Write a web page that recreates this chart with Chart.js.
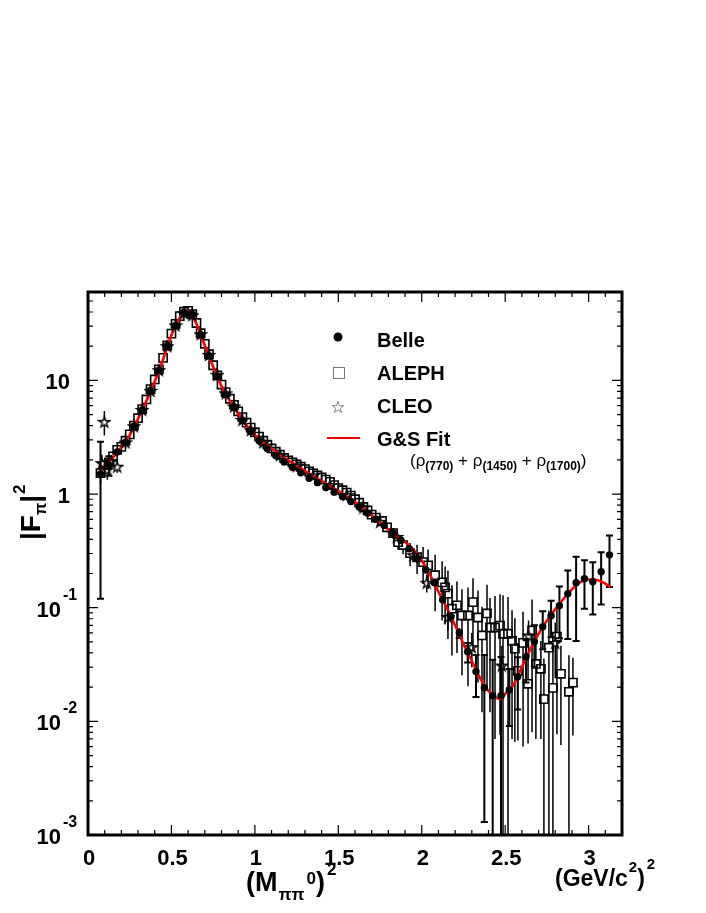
<!DOCTYPE html>
<html>
<head>
<meta charset="utf-8">
<script src="https://cdn.jsdelivr.net/npm/chart.js@4/dist/chart.umd.min.js"></script>
<style>
html,body{margin:0;padding:0;background:#fff;}
#wrap{width:706px;height:913px;position:relative;}
</style>
</head>
<body>
<div id="wrap"><canvas id="c" width="706" height="913"></canvas></div>
<script>
// ---------------- data ----------------
const belleX = [0.075,0.125,0.175,0.225,0.275,0.325,0.375,0.425,0.475,0.525,0.575,0.625,0.675,0.725,0.775,0.825,0.875,0.925,0.975,1.025,1.075,1.125,1.175,1.225,1.275,1.325,1.375,1.425,1.475,1.525,1.575,1.625,1.675,1.725,1.775,1.825,1.875,1.925,1.975,2.025,2.075,2.125,2.175,2.225,2.275,2.325,2.375,2.425,2.475,2.525,2.575,2.625,2.675,2.725,2.775,2.825,2.875,2.925,2.975,3.025,3.075,3.125];
const belleY = [1.5,1.8,2.35,2.85,3.95,5.5,8.2,12.3,20.2,30.5,39.8,38.2,25.2,16.4,10.8,7.5,5.85,4.45,3.55,2.95,2.5,2.18,1.92,1.72,1.54,1.38,1.26,1.14,1.04,0.95,0.86,0.77,0.68,0.6,0.53,0.46,0.39,0.33,0.27,0.215,0.166,0.1175,0.0834,0.0602,0.041,0.0274,0.0198,0.0168,0.0168,0.019,0.0247,0.037,0.0502,0.068,0.0851,0.104,0.133,0.166,0.18,0.169,0.207,0.292];
const belleErr = [1.38,0.35,0.15,0.1,0.1,0.12,0.16,0.22,0.35,0.5,0.6,0.6,0.4,0.28,0.2,0.14,0.11,0.09,0.07,0.06,0.05,0.045,0.04,0.035,0.032,0.03,0.028,0.026,0.024,0.022,0.02,0.019,0.018,0.016,0.015,0.014,0.012,0.011,0.01,0.009,0.008,0.007,0.006,0.006,0.008,0.011,0.0185,0.018,0.02,0.0099,0.012,0.015,0.02,0.025,0.03,0.05,0.08,0.115,0.082,0.082,0.1,0.14];

const alephX = [0.075,0.1,0.125,0.15,0.175,0.2,0.225,0.25,0.275,0.3,0.325,0.35,0.375,0.4,0.425,0.45,0.475,0.5,0.525,0.55,0.575,0.6,0.625,0.65,0.675,0.7,0.725,0.75,0.775,0.8,0.825,0.85,0.875,0.9,0.925,0.95,0.975,1.0,1.025,1.05,1.075,1.1,1.125,1.15,1.175,1.2,1.225,1.25,1.275,1.3,1.325,1.35,1.375,1.4,1.425,1.45,1.475,1.5,1.525,1.55,1.575,1.6,1.625,1.65,1.675,1.7,1.725,
  1.762,1.792,1.828,1.858,1.888,1.93,1.972,2.008,2.038,2.08,2.122,2.14,2.157,2.181,2.211,2.241,2.277,2.307,2.337,2.361,2.391,2.409,2.439,2.469,2.487,2.517,2.541,2.558,2.576,2.607,2.637,2.661,2.684,2.714,2.732,2.762,2.786,2.81,2.834,2.882,2.906];
const alephY = [1.53,1.8,1.9,2.15,2.45,2.6,2.95,3.35,4.0,4.65,5.6,6.8,8.4,10.2,12.5,15.8,20.3,25.8,31.5,36.8,40.2,41,38.3,32,26,21,17,13.6,11.1,9.2,7.9,6.9,6.1,5.35,4.75,4.25,3.85,3.5,3.2,2.95,2.72,2.52,2.36,2.22,2.08,1.98,1.9,1.82,1.74,1.66,1.58,1.52,1.46,1.4,1.34,1.28,1.2,1.13,1.08,1.03,0.97,0.9,0.84,0.77,0.72,0.66,0.62,
  0.58,0.51,0.454,0.378,0.356,0.302,0.278,0.252,0.236,0.193,0.167,0.151,0.133,0.098,0.105,0.0854,0.0854,0.112,0.082,0.057,0.089,0.067,0.067,0.0696,0.059,0.059,0.051,0.0436,0.0278,0.049,0.0214,0.063,0.032,0.029,0.0157,0.0445,0.0197,0.0557,0.0262,0.0182,0.0219];
const alephErr = [0.3,0.25,0.15,0.12,0.1,0.08,0.08,0.08,0.09,0.1,0.12,0.14,0.17,0.2,0.25,0.3,0.4,0.5,0.6,0.7,0.75,0.75,0.7,0.6,0.5,0.4,0.35,0.3,0.25,0.2,0.17,0.15,0.13,0.11,0.1,0.09,0.08,0.07,0.065,0.06,0.055,0.05,0.048,0.046,0.044,0.042,0.04,0.038,0.036,0.035,0.034,0.033,0.032,0.031,0.03,0.03,0.029,0.028,0.028,0.027,0.027,0.026,0.026,0.025,0.025,0.025,0.025,
  0.04,0.05,0.05,0.055,0.06,0.07,0.08,0.09,0.09,0.1,0.09,0.08,0.08,0.06,0.065,0.06,0.065,0.07,0.06,0.045,0.07,0.055,0.06,0.062,0.07,0.065,0.044,0.037,0.021,0.043,0.015,0.055,0.025,0.022,0.02,0.05,0.025,0.048,0.02,0.02,0.0144];

const cleoX = [0.083,0.098,0.116,0.14,0.175,0.225,0.275,0.325,0.375,0.425,0.475,0.525,0.575,0.625,0.675,0.725,0.775,0.825,0.875,0.925,0.975,1.05,1.15,1.25,1.35,1.45,1.55,1.65,1.75,1.85,1.95,2.03,2.157,2.3,2.48,2.64,2.8];
const cleoY = [1.87,4.32,1.64,1.95,1.74,2.85,3.95,5.5,8.1,12.3,20,30.5,39,37.5,25.5,16.8,11.2,7.7,5.9,4.5,3.65,2.85,2.2,1.76,1.46,1.2,0.98,0.76,0.57,0.42,0.29,0.166,0.083,0.045,0.031,0.057,0.049];
const cleoErr = [0.35,1.05,0.3,0.25,0.2,0.12,0.12,0.15,0.2,0.3,0.5,0.7,0.8,0.8,0.6,0.4,0.3,0.2,0.15,0.12,0.1,0.08,0.07,0.06,0.05,0.05,0.04,0.04,0.035,0.03,0.03,0.03,0.02,0.015,0.015,0.02,0.025];

const fitX = [0.08,0.1,0.15,0.2,0.25,0.3,0.35,0.4,0.45,0.5,0.55,0.575,0.6,0.625,0.65,0.7,0.75,0.8,0.85,0.9,0.95,1.0,1.05,1.1,1.15,1.2,1.25,1.3,1.35,1.4,1.45,1.5,1.55,1.6,1.65,1.7,1.75,1.8,1.85,1.9,1.95,2.0,2.05,2.1,2.15,2.2,2.25,2.3,2.35,2.4,2.45,2.475,2.5,2.55,2.6,2.65,2.7,2.75,2.8,2.85,2.9,2.95,3.0,3.05,3.1,3.13];
const fitY = [1.6,1.75,2.1,2.6,3.3,4.6,6.6,9.8,15.3,25,35.5,39.3,40.3,37.5,31.5,20.3,13.2,8.9,6.6,5.1,4.0,3.3,2.88,2.52,2.22,1.98,1.78,1.6,1.43,1.3,1.17,1.06,0.95,0.85,0.75,0.65,0.56,0.49,0.43,0.38,0.325,0.26,0.195,0.138,0.1,0.07,0.048,0.034,0.024,0.0185,0.016,0.0157,0.0175,0.021,0.03,0.043,0.059,0.077,0.097,0.12,0.145,0.168,0.177,0.175,0.163,0.152];

const xTickValues = [0,0.5,1,1.5,2,2.5,3];
const xTickLabels = ['0','0.5','1','1.5','2','2.5','3'];
const yTickValues = [0.001,0.01,0.1,1,10];
const yTickBase = ['10','10','10','1','10'];
const yTickExp = ['-3','-2','-1','',''];

const legendLabels = ['Belle','ALEPH','CLEO','G&S Fit'];

// ---------------- helpers ----------------
const FONT = '"Liberation Sans", Arial, Helvetica, sans-serif';
function pts(xs, ys){ return xs.map((x,i)=>({x:x, y:ys[i]})); }
function makeStar(size, lw, color){
  const c = document.createElement('canvas'); c.width = size; c.height = size;
  const g = c.getContext('2d');
  const cx = size/2, cy = size/2 + 0.5, R = size/2 - lw, r = R*0.4;
  g.beginPath();
  for (let i=0;i<10;i++){
    const a = -Math.PI/2 + i*Math.PI/5; const rr = (i%2)? r : R;
    g.lineTo(cx + rr*Math.cos(a), cy + rr*Math.sin(a));
  }
  g.closePath(); g.strokeStyle = color; g.lineWidth = lw; g.stroke();
  return c;
}
const starImg = makeStar(14, 1.4, '#000');
const starLegend = makeStar(14, 0.9, '#777');

function txt(ctx, s, x, y, size, bold, align){
  ctx.font = (bold ? 'bold ' : '') + size + 'px ' + FONT;
  ctx.textAlign = align || 'left';
  ctx.fillText(s, x, y);
  return ctx.measureText(s).width;
}

function drawErrors(chart, xs, ys, es, gap, lw, cap){
  const ctx = chart.ctx, sx = chart.scales.x, sy = chart.scales.y, a = chart.chartArea;
  ctx.save();
  ctx.beginPath(); ctx.rect(a.left, a.top, a.right-a.left, a.bottom-a.top); ctx.clip();
  ctx.strokeStyle = '#000'; ctx.lineWidth = lw;
  for (let i=0;i<xs.length;i++){
    const px = sx.getPixelForValue(xs[i]);
    const py = sy.getPixelForValue(ys[i]);
    const hi = ys[i] + es[i], lo = ys[i] - es[i];
    const pHi = sy.getPixelForValue(hi);
    const pLo = lo > 0 ? sy.getPixelForValue(lo) : a.bottom + 20;
    ctx.beginPath();
    if (pHi < py - gap) { ctx.moveTo(px, py - gap); ctx.lineTo(px, pHi); }
    if (pLo > py + gap) { ctx.moveTo(px, py + gap); ctx.lineTo(px, pLo); }
    ctx.stroke();
    if (cap > 0){
      ctx.beginPath();
      if (pHi < py - gap - 2) { ctx.moveTo(px-cap, pHi); ctx.lineTo(px+cap, pHi); }
      if (pLo > py + gap + 2 && pLo < a.bottom) { ctx.moveTo(px-cap, pLo); ctx.lineTo(px+cap, pLo); }
      ctx.stroke();
    }
  }
  ctx.restore();
}

const errorBarPlugin = {
  id: 'errbars',
  beforeDatasetsDraw(chart){
    drawErrors(chart, alephX, alephY, alephErr, 4, 1.5, 0);
    drawErrors(chart, cleoX, cleoY, cleoErr, 4, 1.5, 0);
    drawErrors(chart, belleX, belleY, belleErr, 3, 2, 3.5);
  }
};

const framePlugin = {
  id: 'frame',
  afterDraw(chart){
    const ctx = chart.ctx, a = chart.chartArea, sx = chart.scales.x, sy = chart.scales.y;
    ctx.save();
    ctx.fillStyle = '#000'; ctx.strokeStyle = '#000';
    // ticks
    ctx.lineWidth = 1.2;
    ctx.beginPath();
    for (let k=0; k<=32; k++){
      const v = k/10; const px = sx.getPixelForValue(v);
      if (px > a.right) break;
      const len = (k % 5 === 0) ? 10 : 5;
      ctx.moveTo(px, a.bottom); ctx.lineTo(px, a.bottom - len);
      ctx.moveTo(px, a.top); ctx.lineTo(px, a.top + len);
    }
    for (let d=-3; d<=1; d++){
      for (let m=1; m<=9; m++){
        const v = m*Math.pow(10,d);
        if (v > sy.max) continue;
        const py = sy.getPixelForValue(v);
        const len = (m === 1) ? 10 : 5;
        ctx.moveTo(a.left, py); ctx.lineTo(a.left + len, py);
        ctx.moveTo(a.right, py); ctx.lineTo(a.right - len, py);
      }
    }
    ctx.stroke();
    // frame
    ctx.lineWidth = 3;
    ctx.strokeRect(a.left, a.top, a.right - a.left, a.bottom - a.top);

    // x tick labels
    ctx.textBaseline = 'alphabetic';
    for (let i=0;i<xTickValues.length;i++){
      const px = sx.getPixelForValue(xTickValues[i]);
      txt(ctx, xTickLabels[i], px + 1, 865, 22, true, 'center');
    }
    // y tick labels
    for (let i=0;i<yTickValues.length;i++){
      const py = sy.getPixelForValue(yTickValues[i]);
      if (yTickExp[i]){
        txt(ctx, yTickBase[i], 61, py + 9, 22, true, 'right');
        txt(ctx, yTickExp[i], 63, py - 8, 16, true, 'left');
      } else {
        txt(ctx, yTickBase[i], 70, py + 9, 22, true, 'right');
      }
    }
    // x title
    let x = 246;
    x += txt(ctx, '(M', x, 891, 27, true);
    x += txt(ctx, '\u03C0\u03C0', x + 1, 900, 17, true) + 1;
    x += txt(ctx, '0', x + 2, 884, 17, true) + 2;
    x += txt(ctx, ')', x, 891, 27, true);
    txt(ctx, '2', x + 2, 875, 17, true);
    // units
    x = 555;
    x += txt(ctx, '(GeV/c', x, 886, 23, true);
    x += txt(ctx, '2', x + 1, 872, 15, true) + 1;
    x += txt(ctx, ')', x, 886, 23, true);
    txt(ctx, '2', x + 2, 869, 15, true);
    // y title (rotated)
    ctx.save();
    ctx.translate(40, 540);
    ctx.rotate(-Math.PI/2);
    let t = 0;
    t += txt(ctx, '|F', t, 0, 28, true);
    t += txt(ctx, '\u03C0', t, 6, 16, true);
    t += txt(ctx, '|', t, 0, 28, true);
    txt(ctx, '2', t + 1, -15, 17, true);
    ctx.restore();

    // legend
    ctx.beginPath(); ctx.arc(338, 337, 4.5, 0, Math.PI*2); ctx.fill();
    ctx.lineWidth = 1; ctx.strokeStyle = '#777';
    ctx.strokeRect(333.5, 367.5, 11, 11);
    ctx.drawImage(starLegend, 331, 400);
    ctx.strokeStyle = '#ff0000'; ctx.lineWidth = 2;
    ctx.beginPath(); ctx.moveTo(327, 438); ctx.lineTo(360, 438); ctx.stroke();
    ctx.fillStyle = '#000';
    txt(ctx, legendLabels[0], 377, 347, 20, true);
    txt(ctx, legendLabels[1], 377, 380, 20, true);
    txt(ctx, legendLabels[2], 377, 413, 20, true);
    txt(ctx, legendLabels[3], 377, 446, 20, true);
    // formula line
    x = 410; const by = 466;
    x += txt(ctx, '(\u03C1', x, by, 17, false);
    x += txt(ctx, '(770)', x, by + 4, 12, true);
    x += txt(ctx, ' + \u03C1', x, by, 17, false);
    x += txt(ctx, '(1450)', x, by + 4, 12, true);
    x += txt(ctx, ' + \u03C1', x, by, 17, false);
    x += txt(ctx, '(1700)', x, by + 4, 12, true);
    txt(ctx, ')', x, by, 17, false);
    ctx.restore();
  }
};

// ---------------- chart ----------------
new Chart(document.getElementById('c'), {
  type: 'scatter',
  data: {
    datasets: [
      {
        label: 'Belle', data: pts(belleX, belleY), order: 0,
        pointStyle: 'circle', pointRadius: 3.7, pointBackgroundColor: '#000',
        pointBorderWidth: 0, borderColor: '#000', showLine: false
      },
      {
        label: 'CLEO', data: pts(cleoX, cleoY), order: 1,
        pointStyle: starImg, pointRadius: 6, showLine: false
      },
      {
        label: 'G&S Fit', type: 'line', data: pts(fitX, fitY), order: 2,
        borderColor: '#ff0000', borderWidth: 2.6, pointRadius: 0,
        cubicInterpolationMode: 'monotone', fill: false, showLine: true
      },
      {
        label: 'ALEPH', data: pts(alephX, alephY), order: 3,
        pointStyle: 'rect', pointRadius: 5.8, pointBackgroundColor: 'rgba(0,0,0,0)',
        pointBorderColor: '#000', pointBorderWidth: 1.6, showLine: false
      }
    ]
  },
  options: {
    responsive: false,
    animation: false,
    events: [],
    layout: { padding: { left: 88, right: 84, top: 292, bottom: 78 } },
    scales: {
      x: { type: 'linear', min: 0, max: 3.2, display: false },
      y: { type: 'logarithmic', min: 0.001, max: 60, display: false }
    },
    plugins: { legend: { display: false }, tooltip: { enabled: false } }
  },
  plugins: [errorBarPlugin, framePlugin]
});
</script>
</body>
</html>
